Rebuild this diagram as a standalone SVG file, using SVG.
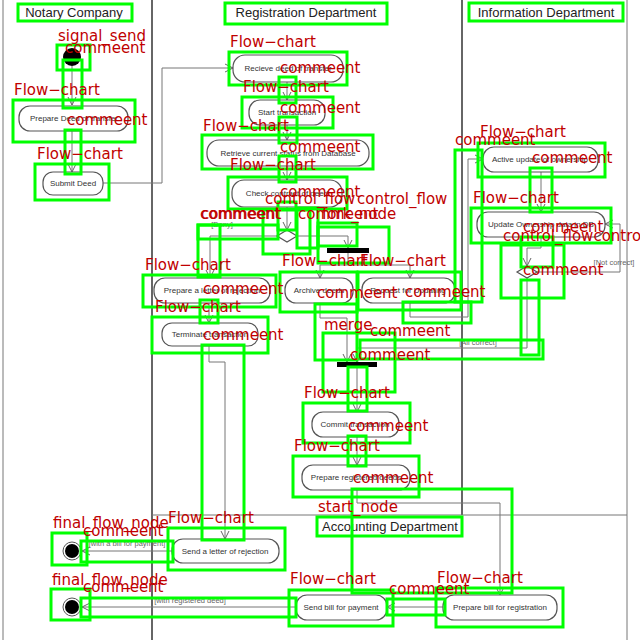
<svg xmlns="http://www.w3.org/2000/svg" width="640" height="640" viewBox="0 0 640 640">
<style>
.lane{stroke:#333;stroke-width:1.5;fill:none}
.lane2{stroke:#777;stroke-width:1;fill:none}
.hdr{font-family:"Liberation Sans",Arial,sans-serif;font-size:13px;fill:#222;text-anchor:middle}
.act{fill:#fff;stroke:#555;stroke-width:1.2}
.t{font-family:"Liberation Sans",Arial,sans-serif;font-size:8px;fill:#333;text-anchor:middle}
.g{font-family:"Liberation Sans",Arial,sans-serif;font-size:7.5px;fill:#666;text-anchor:middle}
.c{fill:none;stroke:#777;stroke-width:1;marker-end:url(#ah)}
.bar{fill:#000}
.gb{fill:none;stroke:#00ff00;stroke-width:3}
.rl{font-family:"DejaVu Sans",sans-serif;font-size:15px;fill:#c00000}
</style>
<defs>
<marker id="ah" markerWidth="10" markerHeight="10" refX="8" refY="5" orient="auto" markerUnits="userSpaceOnUse">
<path d="M0,1 L8,5 L0,9" fill="none" stroke="#666" stroke-width="1"/>
</marker>
</defs>
<rect width="640" height="640" fill="#fff"/>
<g id="lanes">
<line class="lane2" x1="3" y1="0" x2="3" y2="640"/>
<line class="lane" x1="152" y1="0" x2="152" y2="640"/>
<line class="lane" x1="462" y1="0" x2="462" y2="515"/>
<line class="lane2" x1="627" y1="0" x2="627" y2="640"/>
<line class="lane2" x1="152" y1="515" x2="627" y2="515"/>
<text class="hdr" x="74" y="17">Notary Company</text>
<text class="hdr" x="306" y="17">Registration Department</text>
<text class="hdr" x="546" y="17">Information Department</text>
<text class="hdr" x="390" y="531">Accounting Department</text>
</g>
<g id="connectors">
<path class="c" d="M72,66 V105"/>
<path class="c" d="M72,131 V172"/>
<path class="c" d="M103,183 H162 V68 H233"/>
<path class="c" d="M287,82 V100"/>
<path class="c" d="M287,125 V140"/>
<path class="c" d="M287,166 V180"/>
<path class="c" d="M287,207 V230"/>
<path class="c" d="M277,236 H210 V278"/>
<path class="c" d="M297,236 H348 V248"/>
<path class="c" d="M348,253 V265 H320 V278"/>
<path class="c" d="M348,265 H410 V278"/>
<path class="c" d="M209,303 V323"/>
<path class="c" d="M209,346 V362 H225 V539"/>
<path class="c" d="M320,303 V318 H347 V362"/>
<path class="c" d="M410,303 V317 H468 V159 H483"/>
<path class="c" d="M541,172 V212"/>
<path class="c" d="M541,237 V248 H527 V266"/>
<path class="c" d="M537,272 H620 V224 H605"/>
<path class="c" d="M527,278 V348 H357 V362"/>
<path class="c" d="M357,367 V412"/>
<path class="c" d="M357,437 V465"/>
<path class="c" d="M357,490 V503 H500 V595"/>
<path class="c" d="M443,607 H387"/>
<path class="c" d="M296,607 H82"/>
<path class="c" d="M172,551 H82"/>
<text class="g" x="222" y="227">[Deny]</text>
<text class="g" x="614" y="265">[Not correct]</text>
<text class="g" x="478" y="345">[All correct]</text>
<text class="g" x="127" y="546">[with a bill for payment]</text>
<text class="g" x="190" y="603">[with registered deed]</text>
</g>
<g id="n_start"><circle cx="72" cy="57" r="9" fill="#000"/></g>
<g id="n_prepare_deed"><rect class="act" x="19" y="106" width="109" height="25" rx="11"/><text class="t" x="74" y="121">Prepare Deed of transfer</text></g>
<g id="n_submit"><rect class="act" x="43" y="172" width="60" height="23" rx="10"/><text class="t" x="73" y="186">Submit Deed</text></g>
<g id="n_recieve"><rect class="act" x="233" y="55" width="110" height="27" rx="12"/><text class="t" x="288" y="71">Recieve deed of transfer</text></g>
<g id="n_start_tx"><rect class="act" x="249" y="100" width="76" height="25" rx="11"/><text class="t" x="287" y="115">Start transaction</text></g>
<g id="n_retrieve"><rect class="act" x="207" y="140" width="162" height="26" rx="12"/><text class="t" x="288" y="156">Retrieve current status from Database</text></g>
<g id="n_check"><rect class="act" x="232" y="180" width="110" height="27" rx="12"/><text class="t" x="287" y="196">Check contract of deed</text></g>
<g id="n_decision1"><path class="act" d="M277,236 L287,230 L297,236 L287,242 Z"/></g>
<g id="n_fork"><rect class="bar" x="327" y="248" width="42" height="5"/></g>
<g id="n_prepare_letter"><rect class="act" x="154" y="278" width="116" height="25" rx="11"/><text class="t" x="212" y="293">Prepare a letter of rejection</text></g>
<g id="n_terminate"><rect class="act" x="162" y="323" width="96" height="23" rx="10"/><text class="t" x="210" y="337">Terminate transaction</text></g>
<g id="n_archive"><rect class="act" x="285" y="278" width="68" height="25" rx="11"/><text class="t" x="319" y="293">Archive deeds</text></g>
<g id="n_request"><rect class="act" x="362" y="278" width="93" height="25" rx="11"/><text class="t" x="408" y="293">Request for Updating</text></g>
<g id="n_active"><rect class="act" x="483" y="147" width="115" height="25" rx="11"/><text class="t" x="540" y="162">Active update of ownership</text></g>
<g id="n_update"><rect class="act" x="477" y="212" width="128" height="25" rx="11"/><text class="t" x="541" y="227">Update Ownership data in DB</text></g>
<g id="n_decision2"><path class="act" d="M517,272 L527,266 L537,272 L527,278 Z"/></g>
<g id="n_merge"><rect class="bar" x="337" y="362" width="40" height="5"/></g>
<g id="n_commit"><rect class="act" x="312" y="412" width="87" height="25" rx="11"/><text class="t" x="355" y="427">Commit transaction</text></g>
<g id="n_prepare_reg"><rect class="act" x="302" y="465" width="108" height="25" rx="11"/><text class="t" x="356" y="480">Prepare registered deeds</text></g>
<g id="n_send_letter"><rect class="act" x="172" y="539" width="107" height="24" rx="11"/><text class="t" x="225" y="554">Send a letter of rejection</text></g>
<g id="n_send_bill"><rect class="act" x="296" y="595" width="91" height="25" rx="11"/><text class="t" x="341" y="610">Send bill for payment</text></g>
<g id="n_prepare_bill"><rect class="act" x="443" y="595" width="114" height="25" rx="11"/><text class="t" x="500" y="610">Prepare bill for registration</text></g>
<g id="n_final1"><circle cx="72" cy="551" r="9" fill="#fff" stroke="#555" stroke-width="1"/><circle cx="72" cy="551" r="7" fill="#000"/></g>
<g id="n_final2"><circle cx="72" cy="607" r="9" fill="#fff" stroke="#555" stroke-width="1"/><circle cx="72" cy="607" r="7" fill="#000"/></g>
<g id="overlay">
<rect class="gb" x="18" y="4" width="114" height="17"/>
<rect class="gb" x="225" y="3" width="162" height="21"/>
<rect class="gb" x="469" y="3" width="154" height="18"/>
<rect class="gb" x="57" y="45" width="33" height="25"/>
<rect class="gb" x="63" y="60" width="19" height="48"/>
<rect class="gb" x="13" y="100" width="122" height="42"/>
<rect class="gb" x="65" y="130" width="16" height="44"/>
<rect class="gb" x="35" y="164" width="74" height="36"/>
<rect class="gb" x="229" y="52" width="118" height="33"/>
<rect class="gb" x="279" y="77" width="17" height="26"/>
<rect class="gb" x="242" y="97" width="91" height="31"/>
<rect class="gb" x="279" y="117" width="18" height="26"/>
<rect class="gb" x="202" y="135" width="171" height="34"/>
<rect class="gb" x="279" y="156" width="17" height="26"/>
<rect class="gb" x="228" y="177" width="119" height="32"/>
<rect class="gb" x="278" y="202" width="18" height="28"/>
<rect class="gb" x="263" y="210" width="47" height="44"/>
<rect class="gb" x="297" y="208" width="21" height="40"/>
<rect class="gb" x="198" y="225" width="80" height="14"/>
<rect class="gb" x="198" y="225" width="22" height="52"/>
<rect class="gb" x="318" y="223" width="39" height="23"/>
<rect class="gb" x="318" y="227" width="71" height="36"/>
<rect class="gb" x="143" y="275" width="133" height="32"/>
<rect class="gb" x="200" y="300" width="18" height="23"/>
<rect class="gb" x="152" y="317" width="116" height="36"/>
<rect class="gb" x="202" y="345" width="42" height="195"/>
<rect class="gb" x="280" y="272" width="77" height="40"/>
<rect class="gb" x="358" y="272" width="103" height="38"/>
<rect class="gb" x="315" y="304" width="42" height="56"/>
<rect class="gb" x="403" y="302" width="68" height="21"/>
<rect class="gb" x="455" y="150" width="27" height="152"/>
<rect class="gb" x="323" y="333" width="72" height="59"/>
<rect class="gb" x="360" y="340" width="183" height="19"/>
<rect class="gb" x="348" y="367" width="19" height="44"/>
<rect class="gb" x="303" y="403" width="107" height="40"/>
<rect class="gb" x="348" y="436" width="18" height="30"/>
<rect class="gb" x="293" y="456" width="126" height="41"/>
<rect class="gb" x="352" y="489" width="160" height="104"/>
<rect class="gb" x="317" y="517" width="145" height="19"/>
<rect class="gb" x="478" y="143" width="127" height="34"/>
<rect class="gb" x="530" y="168" width="22" height="44"/>
<rect class="gb" x="471" y="208" width="140" height="35"/>
<rect class="gb" x="521" y="237" width="32" height="30"/>
<rect class="gb" x="501" y="245" width="63" height="53"/>
<rect class="gb" x="521" y="280" width="18" height="75"/>
<rect class="gb" x="289" y="590" width="104" height="36"/>
<rect class="gb" x="387" y="599" width="58" height="16"/>
<rect class="gb" x="436" y="588" width="127" height="39"/>
<rect class="gb" x="52" y="533" width="35" height="32"/>
<rect class="gb" x="81" y="541" width="92" height="21"/>
<rect class="gb" x="168" y="528" width="117" height="42"/>
<rect class="gb" x="51" y="589" width="39" height="31"/>
<rect class="gb" x="81" y="598" width="215" height="19"/>
<text class="rl" x="58" y="41">signal_send</text>
<text class="rl" x="65" y="53">commeent</text>
<text class="rl" x="14" y="95">Flow−chart</text>
<text class="rl" x="67" y="125">commeent</text>
<text class="rl" x="37" y="159">Flow−chart</text>
<text class="rl" x="230" y="47">Flow−chart</text>
<text class="rl" x="280" y="73">commeent</text>
<text class="rl" x="243" y="92">Flow−chart</text>
<text class="rl" x="280" y="113">commeent</text>
<text class="rl" x="203" y="131">Flow−chart</text>
<text class="rl" x="280" y="152">commeent</text>
<text class="rl" x="230" y="170">Flow−chart</text>
<text class="rl" x="280" y="197">commeent</text>
<text class="rl" x="265" y="204">control_flow</text>
<text class="rl" x="357" y="204">control_flow</text>
<text class="rl" x="200" y="219">commeent</text>
<text class="rl" x="201" y="219">commeent</text>
<text class="rl" x="298" y="219">commeent</text>
<text class="rl" x="322" y="219">fork_node</text>
<text class="rl" x="145" y="270">Flow−chart</text>
<text class="rl" x="203" y="294">commeent</text>
<text class="rl" x="155" y="312">Flow−chart</text>
<text class="rl" x="203" y="340">commeent</text>
<text class="rl" x="282" y="266">Flow−chart</text>
<text class="rl" x="360" y="266">Flow−chart</text>
<text class="rl" x="317" y="298">commeent</text>
<text class="rl" x="405" y="297">commeent</text>
<text class="rl" x="455" y="145">commeent</text>
<text class="rl" x="324" y="330">merge</text>
<text class="rl" x="370" y="336">commeent</text>
<text class="rl" x="350" y="360">commeent</text>
<text class="rl" x="304" y="398">Flow−chart</text>
<text class="rl" x="348" y="431">commeent</text>
<text class="rl" x="294" y="451">Flow−chart</text>
<text class="rl" x="353" y="483">commeent</text>
<text class="rl" x="318" y="512">start_node</text>
<text class="rl" x="480" y="137">Flow−chart</text>
<text class="rl" x="532" y="163">commeent</text>
<text class="rl" x="473" y="203">Flow−chart</text>
<text class="rl" x="523" y="232">commeent</text>
<text class="rl" x="503" y="241">control_flowcontrol_flow</text>
<text class="rl" x="523" y="275">commeent</text>
<text class="rl" x="290" y="584">Flow−chart</text>
<text class="rl" x="389" y="594">commeent</text>
<text class="rl" x="437" y="583">Flow−chart</text>
<text class="rl" x="53" y="528">final_flow_node</text>
<text class="rl" x="83" y="536">commeent</text>
<text class="rl" x="168" y="523">Flow−chart</text>
<text class="rl" x="52" y="585">final_flow_node</text>
<text class="rl" x="83" y="592">commeent</text>
</g>
</svg>
